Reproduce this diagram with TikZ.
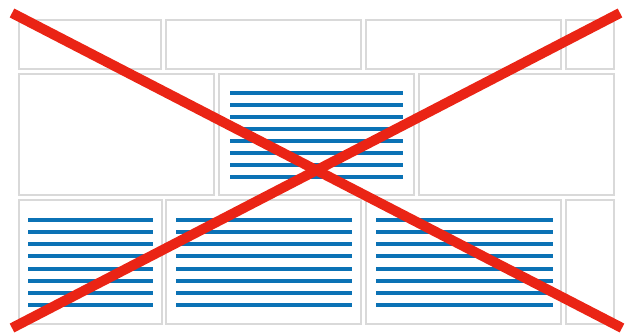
\documentclass[tikz,border=0pt]{standalone}
\usetikzlibrary{fit}
\definecolor{gridgray}{HTML}{D9D9D9}
\definecolor{textblue}{HTML}{0B72B5}
\definecolor{crossred}{HTML}{EA2415}

\begin{document}
\begin{tikzpicture}[x=1pt,y=-1pt,
    cell/.style={draw=gridgray,line width=2pt,inner sep=0pt},
    txtline/.style={draw=textblue,line width=4pt},
    cross/.style={draw=crossred,line width=10pt}]
    \useasboundingbox (0,0) rectangle (625,335);
    \foreach \n/\a/\b/\c/\d in {
        a1/19/20/161/69, a2/166/20/361/69, a3/366/20/561/69, a4/566/20/614/69,
        b1/19/74/214/195, b2/219/74/414/195, b3/419/74/614/195,
        c1/19/200/162/324, c2/166/200/361/324, c3/366/200/561/324, c4/566/200/614/324}
        \node[cell,fit={(\a,\b)(\c,\d)}] (\n) {};
    \foreach \i in {0,...,7} {
        \draw[txtline] (230,{93+12*\i}) -- (403,{93+12*\i});
        \draw[txtline] (28,{220+12.15*\i}) -- (153,{220+12.15*\i});
        \draw[txtline] (176,{220+12.15*\i}) -- (352,{220+12.15*\i});
        \draw[txtline] (376,{220+12.15*\i}) -- (553,{220+12.15*\i});
    }
    \coordinate (tl) at (12,13);
    \coordinate (tr) at (620,13);
    \coordinate (bl) at (12,328);
    \coordinate (br) at (622,328);
    \draw[cross] (tl) -- (br);
    \draw[cross] (bl) -- (tr);
\end{tikzpicture}
\end{document}
